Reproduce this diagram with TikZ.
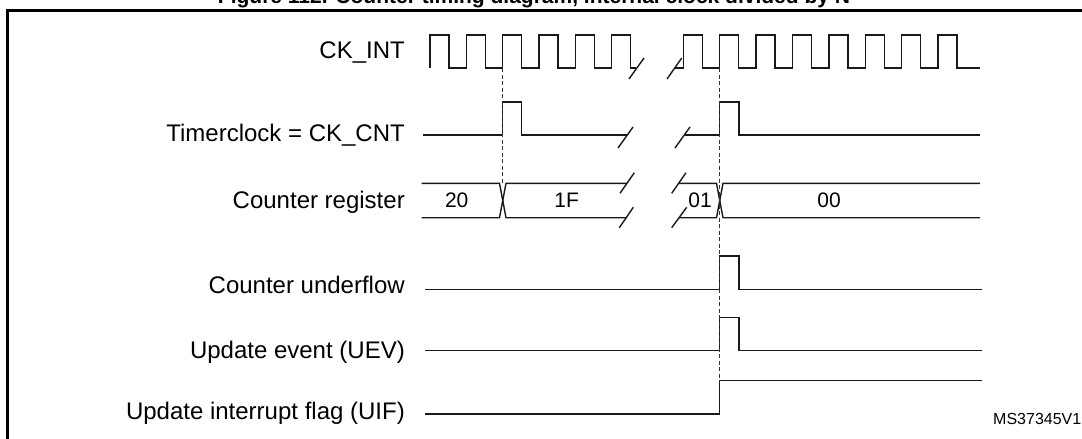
\documentclass[tikz,border=0pt]{standalone}
\usepackage{fontspec}
\setmainfont{Liberation Sans}
\tikzset{
    wave/.style={line width=1.4pt, black!90, line join=miter},
    guide/.style={line width=1pt, black!80, dash pattern=on 4pt off 2.5pt},
    siglabel/.style={anchor=base east, inner sep=0pt, font=\fontsize{24}{28}\selectfont},
    buslabel/.style={inner sep=0pt, font=\fontsize{21}{25}\selectfont}
}
\begin{document}
\begin{tikzpicture}[x=1pt,y=-1pt]
        \useasboundingbox (0,0) rectangle (1082,439);
        \node[anchor=base, inner sep=0pt, font=\bfseries\fontsize{21}{25}\selectfont] (title) at (534,3.5) {Figure 112. Counter timing diagram, internal clock divided by N};
        \draw[line width=2.2pt, line join=miter] (7.5,439) -- (7.5,10.5) -- (1082,10.5);
        \node[siglabel] (ckint) at (405,58.3) {CK\_INT};
        \node[siglabel] (tclk) at (405,141.7) {Timerclock = CK\_CNT};
        \node[siglabel] (creg) at (405,208.3) {Counter register};
        \node[siglabel] (cunf) at (405,293.3) {Counter underflow};
        \node[siglabel] (uev) at (405,358.3) {Update event (UEV)};
        \node[siglabel] (uif) at (405,419.5) {Update interrupt flag (UIF)};
        \draw[wave] (430,68) \foreach \k in {0,...,5} {
                        -- ({430+36.35*\k},68) -- ({430+36.35*\k},35) -- ({449+36.35*\k},35) -- ({449+36.35*\k},68)
                    } -- (636,68);
        \draw[wave] (675,68) \foreach \k in {0,...,7} {
                        -- ({683.3+36.4*\k},68) -- ({683.3+36.4*\k},35) -- ({702.3+36.4*\k},35) -- ({702.3+36.4*\k},68)
                    } -- (980,68);
        \draw[wave] (423,135) -- (502.7,135) -- (502.7,102) -- (521.7,102) -- (521.7,135) -- (627,135);
        \draw[wave] (684.5,135) -- (719.7,135) -- (719.7,102) -- (739,102) -- (739,135) -- (980,135);
        \draw[wave] (421.7,183.3) -- (499.5,183.3) -- (506,217.7) -- (627,217.7);
        \draw[wave] (421.7,217.7) -- (499.5,217.7) -- (506,183.3) -- (627,183.3);
        \draw[wave] (678.6,183.3) -- (716.5,183.3) -- (723,217.7) -- (980,217.7);
        \draw[wave] (678.6,217.7) -- (716.5,217.7) -- (723,183.3) -- (980,183.3);
        \foreach \x/\y/\dx/\dy in {629/79/15/-21, 667/79/14.7/-21, 618/148/15/-21, 675/148/15/-21,
                620/193.3/14.3/-20.6, 619.3/227.7/14/-20.4, 671.7/193.3/14.3/-20.6, 671.7/227.7/15/-20.4} {
                \draw[wave] (\x,\y) -- ++(\dx,\dy);
            }
        \node[buslabel] (v20) at (456.7,200.3) {20};
        \node[buslabel] (v1f) at (566.7,200.3) {1F};
        \node[buslabel] (v01) at (700,200.3) {01};
        \node[buslabel] (v00) at (829,200.3) {00};
        \foreach \y in {289.3, 350.7} {
                \draw[wave] (425,\y) -- (719.7,\y) -- (719.7,\y-33.5) -- (739,\y-33.5) -- (739,\y) -- (981.7,\y);
            }
        \draw[wave] (425,414) -- (719.7,414) -- (719.7,380.7) -- (981.7,380.7);
        \draw[guide] (502.7,68) -- (502.7,183.3);
        \draw[guide] (719.7,68) -- (719.7,380.7);
        \node[anchor=base east, inner sep=0pt, font=\fontsize{16}{19}\selectfont] (docid) at (1081.5,424.5) {MS37345V1};
    \end{tikzpicture}
\end{document}
